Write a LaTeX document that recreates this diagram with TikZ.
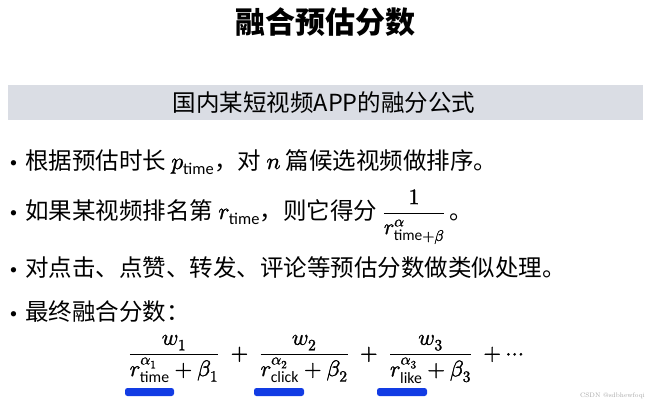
\documentclass[tikz,border=0pt]{standalone}
\usepackage{amsmath}
\usepackage{fontspec}
\usepackage{unicode-math}
\setmathfont{Latin Modern Math}[FakeBold=1.3]
\newfontfamily\cjk{Noto Sans CJK SC}
\newfontfamily\carl{Carlito}
\definecolor{bandgray}{RGB}{218,221,228}
\definecolor{ulblue}{RGB}{18,60,228}
\newcommand{\sub}[1]{\text{\carl #1}}
\tikzset{
  titletext/.style={font=\cjk\bfseries\fontsize{30}{34}\selectfont, inner sep=0pt},
  bandtext/.style={font=\cjk\fontsize{23.5}{27}\selectfont, inner sep=0pt},
  bullettext/.style={font=\cjk\fontsize{23.5}{27}\selectfont, inner sep=0pt, anchor=base west},
  formula/.style={font=\fontsize{22.5}{26}\selectfont, inner sep=0pt},
  ulbar/.style={fill=ulblue, rounded corners=2.5pt},
  wmark/.style={font=\fontsize{6.5}{8}\selectfont, text=gray!70, inner sep=0pt}
}
\newcommand{\bul}{{\rmfamily\textbullet}\hspace{3pt}}
\begin{document}
\begin{tikzpicture}[x=1pt,y=-1pt]
\useasboundingbox (0,0) rectangle (650,404);
\node[titletext] (title) at (325,22) {融合预估分数};
\fill[bandgray] (8,85) rectangle (643,120);
\node[bandtext] (band) at (324,103) {国内某短视频APP的融分公式};
\node[bullettext] (b1) at (5,169) {\bul 根据预估时长 $p_{\sub{time}}$，对 $n$ 篇候选视频做排序。};
\node[bullettext] (b2) at (5,219) {\bul 如果某视频排名第 $r_{\sub{time}}$，则它得分 {\fontsize{22}{26}\selectfont$\dfrac{1}{r^{\alpha}_{\sub{time}+\beta}}$}\hspace{4pt}。};
\node[bullettext] (b3) at (5,276) {\bul 对点击、点赞、转发、评论等预估分数做类似处理。};
\node[bullettext] (b4) at (5,320) {\bul 最终融合分数：};
\node[formula] (f) at (326,359) {$\dfrac{w_1}{r^{\alpha_1}_{\sub{time}}+\beta_1}\;+\;\dfrac{w_2}{r^{\alpha_2}_{\sub{click}}+\beta_2}\;+\;\dfrac{w_3}{r^{\alpha_3}_{\sub{like}}+\beta_3}\;+\cdots$};
\fill[ulbar] (125,388) rectangle (174,396);
\fill[ulbar] (254,388) rectangle (304,396);
\fill[ulbar] (377,388) rectangle (427,396);
\node[wmark, anchor=east] (wm) at (645,396) {CSDN @sdbhewfoqi};
\end{tikzpicture}
\end{document}
